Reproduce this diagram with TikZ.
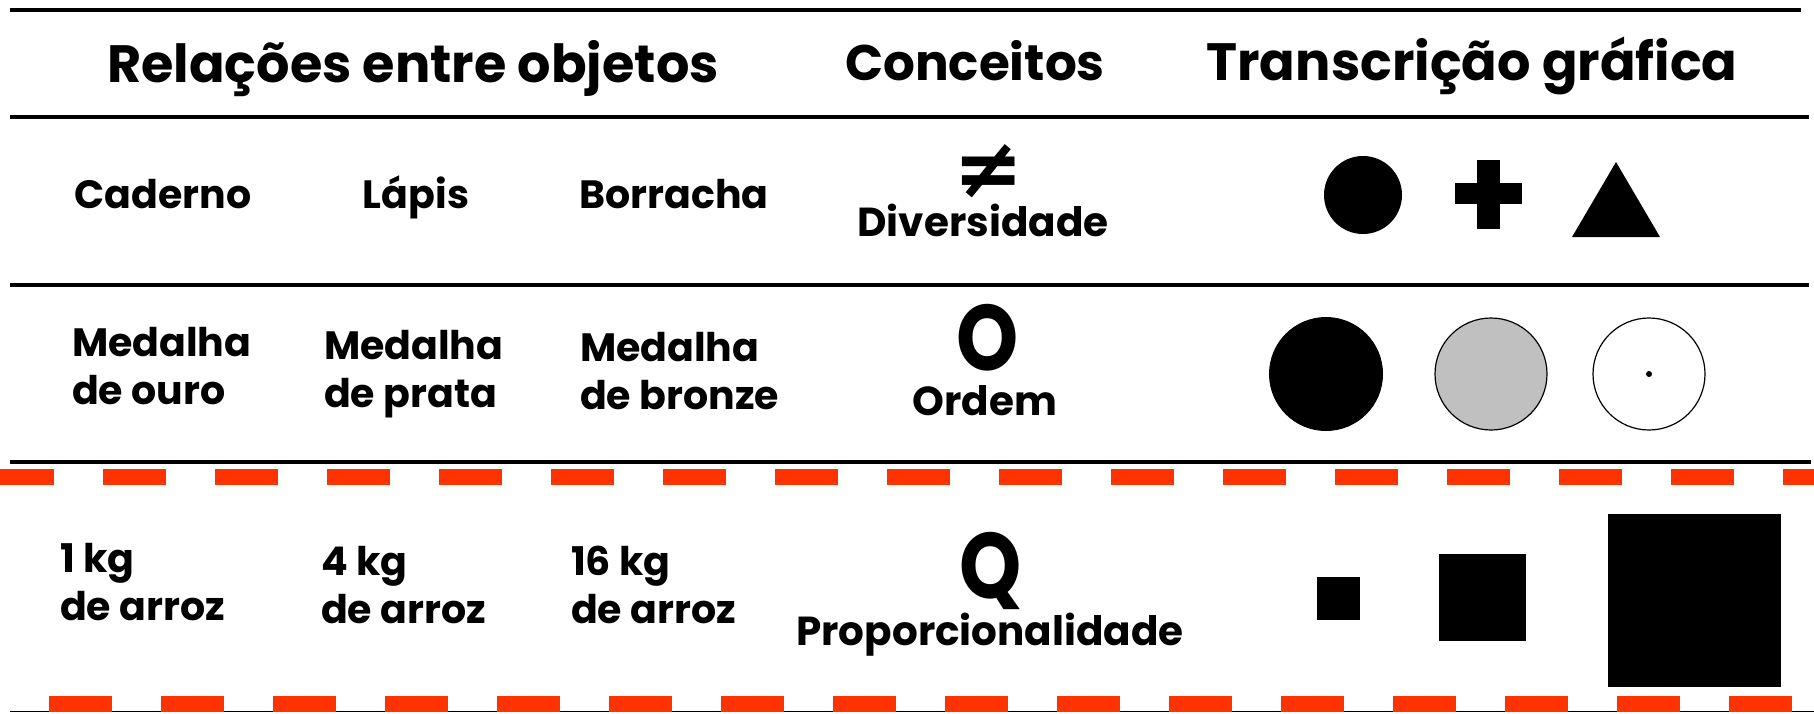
\documentclass[tikz,border=0pt]{standalone}
\usepackage{fontspec}
\setmainfont{Poppins}
\newfontfamily\gfont{Poppins}
\newfontfamily\nfont[FakeStretch=0.85]{Poppins}
\newfontfamily\symfont{DejaVu Sans}
\usepackage{tikz}
\usetikzlibrary{positioning}
\definecolor{cutred}{RGB}{255,51,0}
\definecolor{medgray}{RGB}{192,192,192}

\begin{document}
\begin{tikzpicture}[x=1pt,y=-1pt,
    every node/.style={inner sep=0pt, outer sep=0pt},
    head/.style={font=\gfont\bfseries\fontsize{52.5}{52.5}\selectfont, anchor=base},
    item/.style={font=\gfont\bfseries\fontsize{39.5}{48}\selectfont, anchor=base, align=left},
    concept/.style={font=\gfont\bfseries\fontsize{40.5}{40.5}\selectfont, anchor=base},
    bigsym/.style={font=\nfont\bfseries\fontsize{93}{93}\selectfont},
    rule/.style={line width=4.5pt},
    cut/.style={draw=cutred, line width=16pt}]
    \useasboundingbox (0,0) rectangle (1814,713);
    \clip (0,0) rectangle (1814,713);
    \fill[white] (0,0) rectangle (1814,713);
    % rules
    \draw[rule] (10,10) -- (1801,10);
    \draw[rule] (10,117) -- (1809,117);
    \draw[rule] (10,285) -- (1809,285);
    \draw[rule] (10,462) -- (1811,462);
    \draw[line width=1.5pt] (10,711.5) -- (1814,711.5);
    \draw[cut, dash pattern=on 63pt off 49pt] (-9,477) -- (1830,477);
    \draw[cut, dash pattern=on 63pt off 49pt] (-63,704) -- (1830,704);
    % header
    \node[head] (hrel) at (413,82) {Relações entre objetos};
    \node[head, font=\gfont\bfseries\fontsize{50}{50}\selectfont] (hcon) at (975,80) {Conceitos};
    \node[head] (htra) at (1472,80) {Transcrição gráfica};
    % row 1
    \node[item] (cad) at (163,208) {Caderno};
    \node[item] (lap) at (416,208) {Lápis};
    \node[item] (bor) at (674,208) {Borracha};
    \node[font=\symfont\bfseries\fontsize{84}{84}\selectfont] (neq) at (989,171.5) {≠};
    \node[concept] (div) at (983,236) {Diversidade};
    \node[circle, fill, minimum size=78pt] (dot1) at (1363,195) {};
    \fill (1477,160) rectangle (1500,229);
    \fill (1455,183) rectangle (1522,204);
    \fill (1572,237) -- (1616,162) -- (1660,237) -- cycle;
    % row 2
    \node[item, anchor=base west] (ouro) at (72,404) {Medalha\\de ouro};
    \node[item, anchor=base west] (prata) at (324,407) {Medalha\\de prata};
    \node[item, anchor=base west] (bronze) at (580,409) {Medalha\\de bronze};
    \node[bigsym] (osym) at (988,338) {O};
    \node[concept] (ord) at (985,415) {Ordem};
    \node[circle, fill=black, minimum size=114pt] (m1) at (1326,374) {};
    \node[circle, draw, line width=1.2pt, fill=medgray, minimum size=112pt] (m2) at (1491,374) {};
    \node[circle, draw, line width=1.2pt, fill=white, minimum size=112pt] (m3) at (1649,374) {};
    \fill (m3.center) circle (3pt);
    % row 3
    \node[item, anchor=base west] (kg1) at (60,620) {1 kg\\de arroz};
    \node[item, anchor=base west] (kg4) at (321,623) {4 kg\\de arroz};
    \node[item, anchor=base west] (kg16) at (571,623) {16 kg\\de arroz};
    \node[bigsym] (qsym) at (991,571) {Q};
    \node[concept] (prop) at (990,645) {Proporcionalidade};
    \node[rectangle, fill, minimum size=43pt] (s1) at (1338,598) {};
    \node[rectangle, fill, minimum size=87pt] (s2) at (1482,597) {};
    \node[rectangle, fill, minimum size=173pt] (s3) at (1694,600) {};
  \end{tikzpicture}
\end{document}
